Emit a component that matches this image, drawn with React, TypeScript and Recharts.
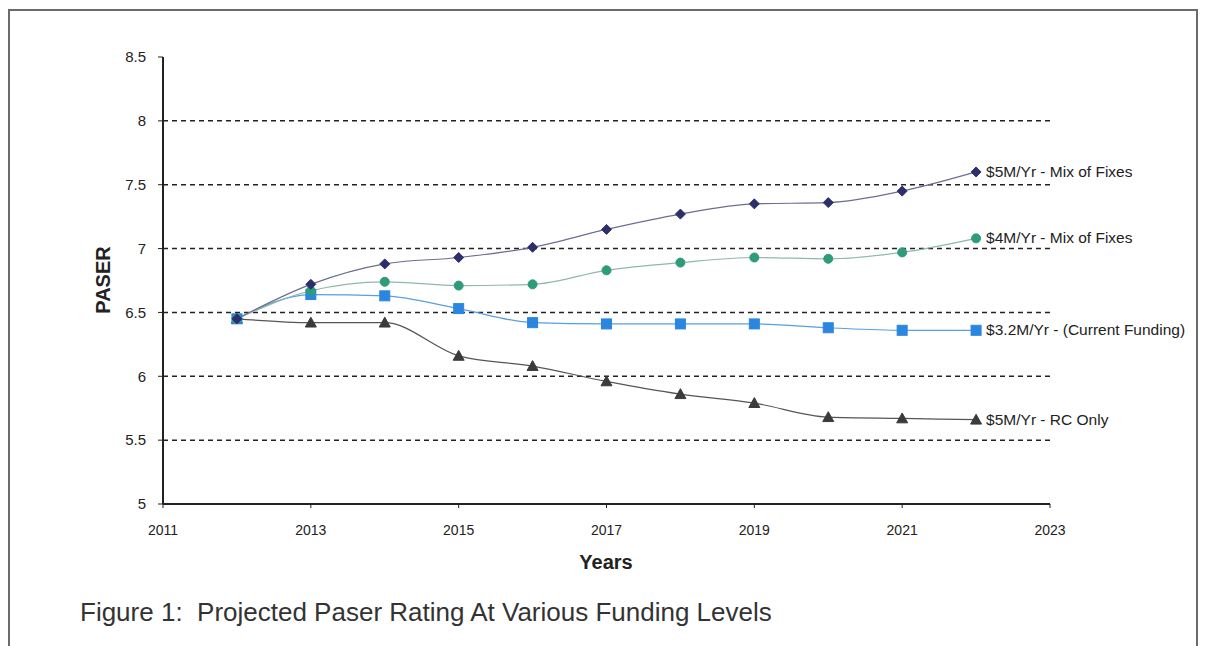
import React from 'react';
import { LineChart, Line, XAxis, YAxis, ReferenceLine, LabelList } from 'recharts';

const years = [2012, 2013, 2014, 2015, 2016, 2017, 2018, 2019, 2020, 2021, 2022];
const mix5 = [6.45, 6.72, 6.88, 6.93, 7.01, 7.15, 7.27, 7.35, 7.36, 7.45, 7.6];
const mix4 = [6.45, 6.67, 6.74, 6.71, 6.72, 6.83, 6.89, 6.93, 6.92, 6.97, 7.08];
const current = [6.45, 6.64, 6.63, 6.53, 6.42, 6.41, 6.41, 6.41, 6.38, 6.36, 6.36];
const rcOnly = [6.45, 6.42, 6.42, 6.16, 6.08, 5.96, 5.86, 5.79, 5.68, 5.67, 5.66];

const seriesNames = ['$5M/Yr - Mix of Fixes', '$4M/Yr - Mix of Fixes', '$3.2M/Yr - (Current Funding)', '$5M/Yr - RC Only'];
const xTicks = [2011, 2013, 2015, 2017, 2019, 2021, 2023];
const yTicks = [5, 5.5, 6, 6.5, 7, 7.5, 8, 8.5];
const gridValues = [5.5, 6, 6.5, 7, 7.5, 8];

const data = years.map((y, i) => ({ year: y, mix5: mix5[i], mix4: mix4[i], current: current[i], rcOnly: rcOnly[i] }));
const lastIndex = years.length - 1;

const Diamond = (props: any) => {
  const { cx, cy, index } = props;
  if (cx == null || cy == null) return <g key={index} />;
  const r = 5;
  return <path key={index} d={`M${cx},${cy - r} L${cx + r},${cy} L${cx},${cy + r} L${cx - r},${cy} Z`} fill="#2c2f6a" stroke="#2c2f6a" strokeWidth={1} />;
};
const Circle = (props: any) => {
  const { cx, cy, index } = props;
  if (cx == null || cy == null) return <g key={index} />;
  return <circle key={index} cx={cx} cy={cy} r={4.5} fill="#2e9b7b" stroke="#2e9b7b" />;
};
const Square = (props: any) => {
  const { cx, cy, index } = props;
  if (cx == null || cy == null) return <g key={index} />;
  const s = 5;
  return <rect key={index} x={cx - s} y={cy - s} width={2 * s} height={2 * s} fill="#2b86df" stroke="#2b86df" />;
};
const Triangle = (props: any) => {
  const { cx, cy, index } = props;
  if (cx == null || cy == null) return <g key={index} />;
  const r = 5.5;
  return <path key={index} d={`M${cx},${cy - r} L${cx + r},${cy + r * 0.8} L${cx - r},${cy + r * 0.8} Z`} fill="#3b3b3b" stroke="#3b3b3b" />;
};

const makeEndLabel = (name: string) => (props: any) => {
  const { x, y, index } = props;
  if (index !== lastIndex) return null;
  return (
    <text x={x + 10} y={y + 5} fontSize={15.5} fill="#222" fontFamily="Liberation Sans, Arial, sans-serif">
      {name}
    </text>
  );
};

export default function App() {
  return (
    <div style={{ position: 'fixed', left: 0, top: 0, width: 1208, height: 646, background: '#fff', fontFamily: 'Liberation Sans, Arial, sans-serif' }}>
      <div style={{ position: 'absolute', left: 8, top: 9, width: 1190, height: 660, border: '2px solid #6a6a6a', boxSizing: 'border-box' }} />
      <div style={{ position: 'absolute', left: 0, top: 0 }}>
        <LineChart width={1208} height={646} data={data} margin={{ top: 57, left: 103, right: 158, bottom: 112 }}>
          <XAxis
            dataKey="year"
            type="number"
            domain={[2011, 2023]}
            ticks={xTicks}
            height={30}
            tick={{ fontSize: 14, fill: '#222', fontFamily: 'Liberation Sans, Arial, sans-serif' }}
            tickLine={{ stroke: '#222' }}
            tickSize={4}
            tickMargin={17}
            axisLine={{ stroke: '#222', strokeWidth: 2 }}
          />
          <YAxis
            type="number"
            domain={[5, 8.5]}
            ticks={yTicks}
            width={60}
            tick={{ fontSize: 15, fill: '#222', fontFamily: 'Liberation Sans, Arial, sans-serif' }}
            tickLine={{ stroke: '#222' }}
            tickSize={5}
            tickMargin={12}
            axisLine={{ stroke: '#222', strokeWidth: 2 }}
          />
          {gridValues.map((v) => (
            <ReferenceLine key={v} y={v} stroke="#222" strokeWidth={1.5} strokeDasharray="5 4" />
          ))}
          <Line type="monotone" dataKey="rcOnly" stroke="#555" strokeWidth={1.2} dot={Triangle} isAnimationActive={false}>
            <LabelList dataKey="rcOnly" content={makeEndLabel(seriesNames[3])} />
          </Line>
          <Line type="monotone" dataKey="current" stroke="#5a9fe0" strokeWidth={1.2} dot={Square} isAnimationActive={false}>
            <LabelList dataKey="current" content={makeEndLabel(seriesNames[2])} />
          </Line>
          <Line type="monotone" dataKey="mix4" stroke="#8fb8aa" strokeWidth={1.2} dot={Circle} isAnimationActive={false}>
            <LabelList dataKey="mix4" content={makeEndLabel(seriesNames[1])} />
          </Line>
          <Line type="monotone" dataKey="mix5" stroke="#6b6e90" strokeWidth={1.2} dot={Diamond} isAnimationActive={false}>
            <LabelList dataKey="mix5" content={makeEndLabel(seriesNames[0])} />
          </Line>
        </LineChart>
      </div>
      <div style={{ position: 'absolute', left: 103, top: 280, transform: 'translate(-50%, -50%) rotate(-90deg)', fontSize: 20, fontWeight: 'bold', color: '#222', whiteSpace: 'nowrap' }}>
        PASER
      </div>
      <div style={{ position: 'absolute', left: 606, top: 562, transform: 'translate(-50%, -50%)', fontSize: 20, fontWeight: 'bold', color: '#222', whiteSpace: 'nowrap' }}>
        Years
      </div>
      <div style={{ position: 'absolute', left: 80, top: 612, transform: 'translateY(-50%)', fontSize: 26, color: '#333', whiteSpace: 'pre' }}>
        {'Figure 1:  Projected Paser Rating At Various Funding Levels'}
      </div>
    </div>
  );
}
